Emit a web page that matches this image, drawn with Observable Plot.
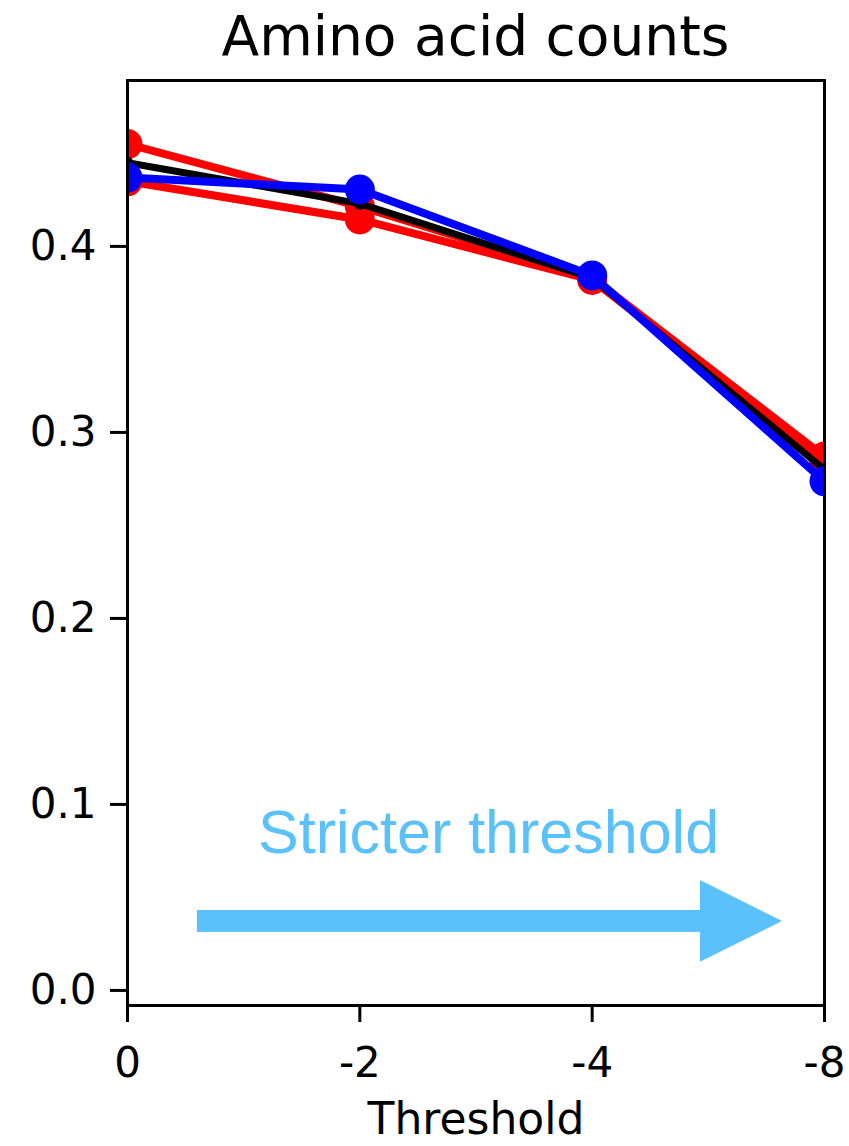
<!DOCTYPE html>
<html>
<head>
<meta charset="utf-8">
<script src="https://cdn.jsdelivr.net/npm/d3@7"></script>
<script src="https://cdn.jsdelivr.net/npm/@observablehq/plot@0.6"></script>
<style>
  html, body { margin: 0; padding: 0; background: white; }
  #title {
    width: 849px; height: 72px; box-sizing: border-box;
    padding-left: 127px; padding-right: 25px;
    font-family: "DejaVu Sans", sans-serif; font-size: 55px; line-height: 72px;
    text-align: center; color: black; white-space: nowrap;
  }
</style>
</head>
<body>
<div id="title">Amino acid counts</div>
<div id="chart"></div>
<script>
// Categories (x) and tick labels
const thresholdLabels = ["0", "-2", "-4", "-8"];
const yTicks = [0.0, 0.1, 0.2, 0.3, 0.4];

// Series values (one value per threshold)
const red1 = [0.455, 0.4215, 0.383, 0.287];
const red2 = [0.435, 0.4145, 0.382, 0.285];
const black = [0.445, 0.423, 0.383, 0.280];
const blue = [0.437, 0.4306, 0.3844, 0.2737];

const seriesNames = ["red1", "red2", "black", "blue"];
const seriesValues = [red1, red2, black, blue];
const seriesColors = ["#ff0000", "#ff0000", "#000000", "#0000ff"];
const seriesDotR = [15, 15, 6, 15];
const seriesWidth = [8, 8, 7, 8];

// Annotation ("Stricter threshold" arrow), in data units (x = threshold index)
const annotText = "Stricter threshold";
const annotTextX = 1.554;
const annotTextY = 0.0845;
const arrowShaftX = [0.301, 2.47];
const arrowShaftY = [0.0312, 0.0430];
const arrowHeadX = [2.466, 2.819];
const arrowHeadY1 = [0.0151, 0.0371];
const arrowHeadY2 = [0.0591, 0.0371];
const annotColor = "#5AC1FB";

const rows = seriesNames.map((name, s) =>
  seriesValues[s].map((v, i) => ({series: name, x: i, y: v}))
);
const headRows = arrowHeadX.map((x, i) => ({x, y1: arrowHeadY1[i], y2: arrowHeadY2[i]}));

const marks = [];
rows.forEach((data, s) => {
  marks.push(Plot.line(data, {x: "x", y: "y", stroke: seriesColors[s], strokeWidth: seriesWidth[s], clip: true}));
  marks.push(Plot.dot(data, {x: "x", y: "y", r: seriesDotR[s], fill: seriesColors[s], stroke: "none", clip: true}));
});

const plot = Plot.plot({
  width: 849,
  height: 1074,
  marginLeft: 127,
  marginRight: 25,
  marginTop: 8,
  marginBottom: 141,
  style: {fontFamily: "DejaVu Sans", fontSize: "42px", background: "white", color: "black", overflow: "visible"},
  x: {type: "linear", domain: [0, 3]},
  y: {domain: [-0.0081, 0.4892]},
  marks: [
    Plot.axisY({ticks: yTicks, tickFormat: d3.format(".1f"), tickSize: 17, tickPadding: 14, strokeWidth: 3, label: null}),
    Plot.axisX({ticks: [0, 1, 2, 3], tickFormat: i => thresholdLabels[i], tickSize: 17, tickPadding: 25, strokeWidth: 3, label: null}),
    ...marks,
    Plot.rect([{}], {x1: () => arrowShaftX[0], x2: () => arrowShaftX[1], y1: () => arrowShaftY[0], y2: () => arrowShaftY[1], fill: annotColor}),
    Plot.areaY(headRows, {x: "x", y1: "y1", y2: "y2", fill: annotColor}),
    Plot.text([annotText], {x: () => annotTextX, y: () => annotTextY, text: d => d, fill: annotColor, fontFamily: "Liberation Sans", fontSize: 61, textAnchor: "middle", lineAnchor: "middle"}),
    Plot.text(["Threshold"], {frameAnchor: "bottom", text: d => d, dy: 97, lineAnchor: "top", fontSize: 44}),
    Plot.frame({stroke: "black", strokeWidth: 3})
  ]
});
document.getElementById("chart").appendChild(plot);
</script>
</body>
</html>
